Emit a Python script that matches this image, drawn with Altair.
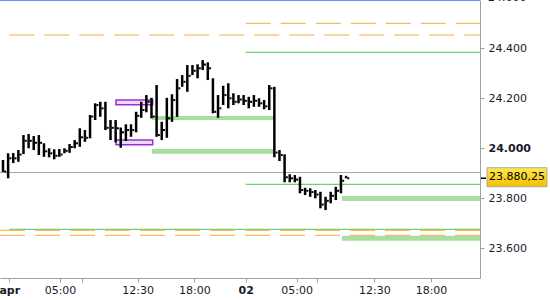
import json
import altair as alt
import pandas as pd

# ---------------- data ----------------
# bar slots (one per bar, equally spaced)
bar_idx = list(range(68))
bar_high = [23953, 23980, 23981, 23993, 24053, 24057, 24049, 24053, 24020, 24000,
            23996, 23997, 24000, 24017, 24033, 24080, 24073, 24133, 24180, 24186,
            24186, 24113, 24113, 24083, 24096, 24096, 24146, 24186, 24213, 24202,
            24253, 24106, 24202, 24216, 24277, 24293, 24333, 24333, 24336, 24353,
            24344, 24280, 24213, 24250, 24260, 24220, 24213, 24213, 24206, 24213,
            24200, 24193, 24253, 24246, 23993, 23976, 23896, 23893, 23886, 23842,
            23840, 23833, 23826, 23806, 23826, 23846, 23893, 23890]
bar_low = [23905, 23880, 23941, 23946, 23977, 24000, 23993, 23973, 23966, 23964,
           23956, 23966, 23980, 23982, 24000, 24006, 24026, 24040, 24113, 24126,
           24073, 24033, 24024, 24002, 24029, 24046, 24064, 24122, 24144, 24120,
           24046, 24033, 24042, 24106, 24126, 24246, 24226, 24293, 24280, 24313,
           24273, 24140, 24122, 24173, 24160, 24173, 24180, 24173, 24160, 24166,
           24166, 24156, 24153, 23964, 23949, 23864, 23864, 23864, 23820, 23813,
           23806, 23800, 23760, 23753, 23780, 23793, 23820, 23880]
bar_close = [23907, 23960, 23960, 23975, 24030, 24030, 24022, 24022, 23988, 23980,
             23970, 23975, 23990, 24005, 24020, 24044, 24042, 24127, 24173, 24160,
             24082, 24082, 24080, 24064, 24073, 24073, 24130, 24153, 24186, 24127,
             24053, 24073, 24120, 24193, 24240, 24266, 24290, 24310, 24320, 24335,
             24320, 24146, 24160, 24213, 24200, 24186, 24195, 24190, 24186, 24190,
             24180, 24168, 24240, 23983, 23973, 23884, 23880, 23875, 23833, 23830,
             23825, 23815, 23775, 23790, 23810, 23830, 23870, 23880.25]

last_price = 23880.25
last_price_text = "23.880,25"

x_min, x_max = -0.586, 93.164
y_min, y_max = 23481.2, 24593.2

tick_pos = [1.23, 11.13, 15.37, 26.31, 37.36, 47.4, 57.36, 61.39, 72.52, 83.59]
tick_lab = ["apr", "05:00", "", "12:30", "18:00", "02", "05:00", "", "12:30", "18:00"]
tick_bold = [1.23, 47.4]

y_ticks = [23600, 23800, 24000, 24200, 24400]
y_top_tick = 24600
y_top_text = "24.600"

# solid horizontal levels
solid_x1 = [x_min, x_min, 47.4, 47.4, 1.23]
solid_x2 = [x_max, x_max, x_max, x_max, x_max]
solid_val = [24591, 23903, 24384, 23856, 23676]
solid_col = ["#5b8ff9", "#a6a6a6", "#4cc94c", "#4cc94c", "#4cc94c"]

# dashed orange levels
dash_x1 = [47.4, 1.23, x_min, x_min]
dash_val = [24500, 24453, 23672, 23652]

# light green zones
zone_x1 = [29.1, 29.1, 66.2, 66.2]
zone_x2 = [53.1, 53.1, x_max, x_max]
zone_lo = [24113, 23978, 23789, 23630]
zone_hi = [24129, 23997, 23809, 23650]

# purple boxes
box_x1 = [22.07, 22.07]
box_x2 = [29.24, 29.24]
box_lo = [24174, 24014]
box_hi = [24193, 24033]

# ---------------- frames ----------------
bars = pd.DataFrame({"k": bar_idx, "high": bar_high, "low": bar_low, "close": bar_close})
solid = pd.DataFrame({"x1": solid_x1, "x2": solid_x2, "v": solid_val, "c": solid_col})
dashed = pd.DataFrame({"x1": dash_x1, "x2": [x_max] * len(dash_x1), "v": dash_val})
zones = pd.DataFrame({"x1": zone_x1, "x2": zone_x2, "lo": zone_lo, "hi": zone_hi})
boxes = pd.DataFrame({"x1": box_x1, "x2": box_x2, "lo": box_lo, "hi": box_hi})
price = pd.DataFrame({"p": [last_price], "t": [last_price_text]})
toplab = pd.DataFrame({"p": [y_top_tick], "t": [y_top_text]})

FONT = "DejaVu Sans"
xs = alt.Scale(domain=[x_min, x_max], nice=False, zero=False)
ys = alt.Scale(domain=[y_min, y_max], nice=False, zero=False)

x_label_expr = "%s[indexof(%s, datum.value)]" % (json.dumps(tick_lab), json.dumps(tick_pos))
xax = alt.Axis(
    values=tick_pos, labelExpr=x_label_expr, title=None, grid=False,
    tickSize=4, tickColor="#a0a0a0", domainColor="#a0a0a0",
    labelFont=FONT, labelFontSize=11, labelColor="#1a1a2a", labelPadding=2,
    labelFlush=False, labelOverlap=False,
    labelFontWeight={"condition": {"test": "indexof(%s, datum.value) >= 0" % json.dumps(tick_bold),
                                   "value": "bold"}, "value": "normal"},
)
yax = alt.Axis(
    orient="right", values=y_ticks, title=None, grid=False,
    labelExpr="replace(format(datum.value, ','), ',', '.')",
    tickSize=4, tickColor="#a0a0a0", domainColor="#a0a0a0",
    labelFont=FONT, labelFontSize=11, labelColor="#1a1a2a", labelPadding=4,
    labelFlush=False, labelOverlap=False,
    labelFontWeight={"condition": {"test": "datum.value == 24000", "value": "bold"}, "value": "normal"},
)

zone_layer = alt.Chart(zones).mark_rect(color="#a8dfa0").encode(
    x=alt.X("x1:Q", scale=xs, axis=xax), x2="x2:Q",
    y=alt.Y("lo:Q", scale=ys, axis=yax), y2="hi:Q")

solid_layer = alt.Chart(solid).mark_rule(strokeWidth=1).encode(
    x=alt.X("x1:Q", scale=xs, axis=xax), x2="x2:Q",
    y=alt.Y("v:Q", scale=ys, axis=yax),
    color=alt.Color("c:N", scale=None))

dash_layer = alt.Chart(dashed).mark_rule(strokeWidth=1, color="#f3ad3c", strokeDash=[25, 10]).encode(
    x=alt.X("x1:Q", scale=xs, axis=xax), x2="x2:Q",
    y=alt.Y("v:Q", scale=ys, axis=yax))

box_layer = alt.Chart(boxes).mark_rect(fill="#ead9f7", stroke="#9a2fd0", strokeWidth=1.5).encode(
    x=alt.X("x1:Q", scale=xs, axis=xax), x2="x2:Q",
    y=alt.Y("lo:Q", scale=ys, axis=yax), y2="hi:Q")

bar_layer = alt.Chart(bars).mark_rule(strokeWidth=2.5, color="black").encode(
    x=alt.X("k:Q", scale=xs, axis=xax),
    y=alt.Y("high:Q", scale=ys, axis=yax), y2="low:Q")

close_layer = alt.Chart(bars).mark_tick(orient="horizontal", size=2, thickness=2,
                                        xOffset=2.25, color="black", opacity=1).encode(
    x=alt.X("k:Q", scale=xs, axis=xax),
    y=alt.Y("close:Q", scale=ys, axis=yax))

tag_grad = alt.Gradient(gradient="linear", x1=0, x2=0, y1=0, y2=1,
                        stops=[alt.GradientStop(color="#ffe94d", offset=0),
                               alt.GradientStop(color="#f3c000", offset=1)])
tag_box = alt.Chart(price).mark_rect(fill=tag_grad, stroke="#a8a8a8", strokeWidth=1,
                                     yOffset=-10.5, y2Offset=8.5).encode(
    x=alt.value(487), x2=alt.value(547),
    y=alt.Y("p:Q", scale=ys, axis=yax), y2="p:Q")
tag_tick = alt.Chart(price).mark_rule(color="black", strokeWidth=1.5).encode(
    x=alt.value(481), x2=alt.value(486),
    y=alt.Y("p:Q", scale=ys, axis=yax))
tag_text = alt.Chart(price).mark_text(font=FONT, fontSize=11, color="black",
                                      align="center", baseline="middle", dy=-1).encode(
    x=alt.value(517), y=alt.Y("p:Q", scale=ys, axis=yax), text="t:N")

# partially visible top axis label (outside the value range)
top_label = alt.Chart(toplab).mark_text(font=FONT, fontSize=11, color="#1a1a2a",
                                        align="left", baseline="middle").encode(
    x=alt.value(488), y=alt.Y("p:Q", scale=ys, axis=yax), text="t:N")

chart = alt.layer(
    zone_layer, solid_layer, dash_layer, box_layer, bar_layer, close_layer,
    tag_box, tag_tick, tag_text, top_label
).properties(
    width=480, height=278,
    autosize=alt.AutoSizeParams(type="none"),
    padding={"left": 0, "top": 0, "right": 70, "bottom": 22},
    background="white",
).configure_view(stroke=None)

chart.save("out.html", embed_options={"renderer": "svg", "actions": False})
